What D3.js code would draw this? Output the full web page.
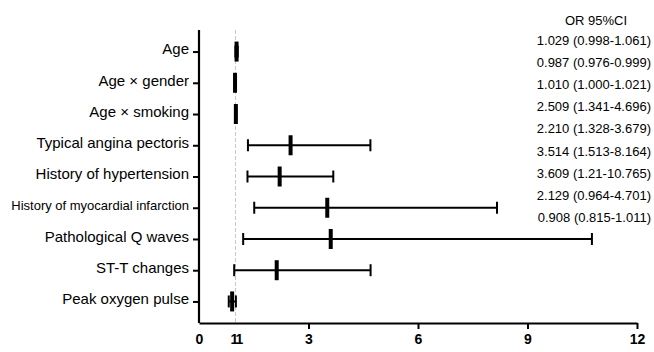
<!DOCTYPE html>
<html>
<head>
<meta charset="utf-8">
<script src="https://cdn.jsdelivr.net/npm/d3@7"></script>
<style>
  body { margin: 0; background: #fff; }
  svg { display: block; font-family: "Liberation Sans", Arial, sans-serif; }
</style>
</head>
<body>
<svg id="chart" width="654" height="352"></svg>
<script>
// row labels, top to bottom
const factors = ["Age", "Age \u00d7 gender", "Age \u00d7 smoking", "Typical angina pectoris",
  "History of hypertension", "History of myocardial infarction", "Pathological Q waves",
  "ST-T changes", "Peak oxygen pulse"];
const or = [1.029, 0.987, 1.010, 2.509, 2.210, 3.514, 3.609, 2.129, 0.908];
const lower = [0.998, 0.976, 1.000, 1.341, 1.328, 1.513, 1.21, 0.964, 0.815];
const upper = [1.061, 0.999, 1.021, 4.696, 3.679, 8.164, 10.765, 4.701, 1.011];
const orText = ["1.029 (0.998-1.061)", "0.987 (0.976-0.999)", "1.010 (1.000-1.021)",
  "2.509 (1.341-4.696)", "2.210 (1.328-3.679)", "3.514 (1.513-8.164)",
  "3.609 (1.21-10.765)", "2.129 (0.964-4.701)", "0.908 (0.815-1.011)"];
const xTicks = [0, 1, 3, 6, 9, 12];
const xTickLabels = ["0", "11", "3", "6", "9", "12"];

const svg = d3.select("#chart");
const plotLeft = 199, plotRight = 637, plotTop = 30, plotBottom = 323;

const x = d3.scaleLinear().domain([0, 12]).range([plotLeft, plotRight]);
const y = d3.scalePoint().domain(factors).range([plotTop, plotBottom]).padding(0.69);

// reference line at OR = 1
svg.append("line")
  .attr("x1", x(1)).attr("x2", x(1))
  .attr("y1", plotTop).attr("y2", plotBottom)
  .attr("stroke", "#c8c8c8")
  .attr("stroke-width", 1)
  .attr("stroke-dasharray", "4,2");

// x axis
const xAxis = svg.append("g")
  .attr("transform", "translate(0," + plotBottom + ")")
  .call(d3.axisBottom(x).tickValues(xTicks).tickSize(6).tickSizeOuter(0)
    .tickFormat((d, i) => xTickLabels[i]));
xAxis.select(".domain").attr("stroke", "#000").attr("stroke-width", 2.2);
xAxis.selectAll(".tick line").attr("stroke", "#000").attr("stroke-width", 2)
  .attr("display", d => (d === 0 || d === 1) ? "none" : null);
xAxis.selectAll(".tick text")
  .attr("y", 11)
  .attr("fill", "#000")
  .style("font-size", "14px")
  .style("font-weight", "bold")
  .style("letter-spacing", d => d === 1 ? "-2px" : null);

// y axis
const yAxis = svg.append("g")
  .attr("transform", "translate(" + plotLeft + ",0)")
  .call(d3.axisLeft(y).tickSize(6).tickSizeOuter(0).tickPadding(4));
yAxis.select(".domain").attr("stroke", "#000").attr("stroke-width", 2.2)
  .attr("d", "M0," + plotTop + "V" + plotBottom);
yAxis.selectAll(".tick line").attr("stroke", "#000").attr("stroke-width", 2);
yAxis.selectAll(".tick text")
  .attr("fill", "#000")
  .attr("dy", "0.15em")
  .style("font-size", d => d.length > 30 ? "13px" : "15px");

// CI lines
const rows = factors.map((f, i) => ({ f, or: or[i], lo: lower[i], hi: upper[i] }));
const g = svg.append("g");
g.selectAll(".ci").data(rows).enter().append("line")
  .attr("x1", d => x(d.lo)).attr("x2", d => x(d.hi))
  .attr("y1", d => y(d.f)).attr("y2", d => y(d.f))
  .attr("stroke", "#000").attr("stroke-width", 2);
// caps
["lo", "hi"].forEach(k => {
  g.selectAll(".cap-" + k).data(rows).enter().append("line")
    .attr("x1", d => x(d[k])).attr("x2", d => x(d[k]))
    .attr("y1", d => y(d.f) - 6).attr("y2", d => y(d.f) + 6)
    .attr("stroke", "#000").attr("stroke-width", 2);
});
// point estimates
g.selectAll(".pt").data(rows).enter().append("rect")
  .attr("x", d => x(d.or) - 2).attr("y", d => y(d.f) - 10)
  .attr("width", 4).attr("height", 20)
  .attr("fill", "#000");

// OR 95%CI text column
const ty = d3.scaleLinear().domain([0, 1]).range([44.5, 66.7]);
svg.append("text")
  .attr("x", 596).attr("y", 25)
  .attr("text-anchor", "middle")
  .style("font-size", "13px")
  .text("OR 95%CI");
svg.selectAll(".ortext").data(orText).enter().append("text")
  .attr("x", 651).attr("y", (d, i) => ty(i))
  .attr("text-anchor", "end")
  .style("font-size", "13px")
  .text(d => d);
</script>
</body>
</html>
